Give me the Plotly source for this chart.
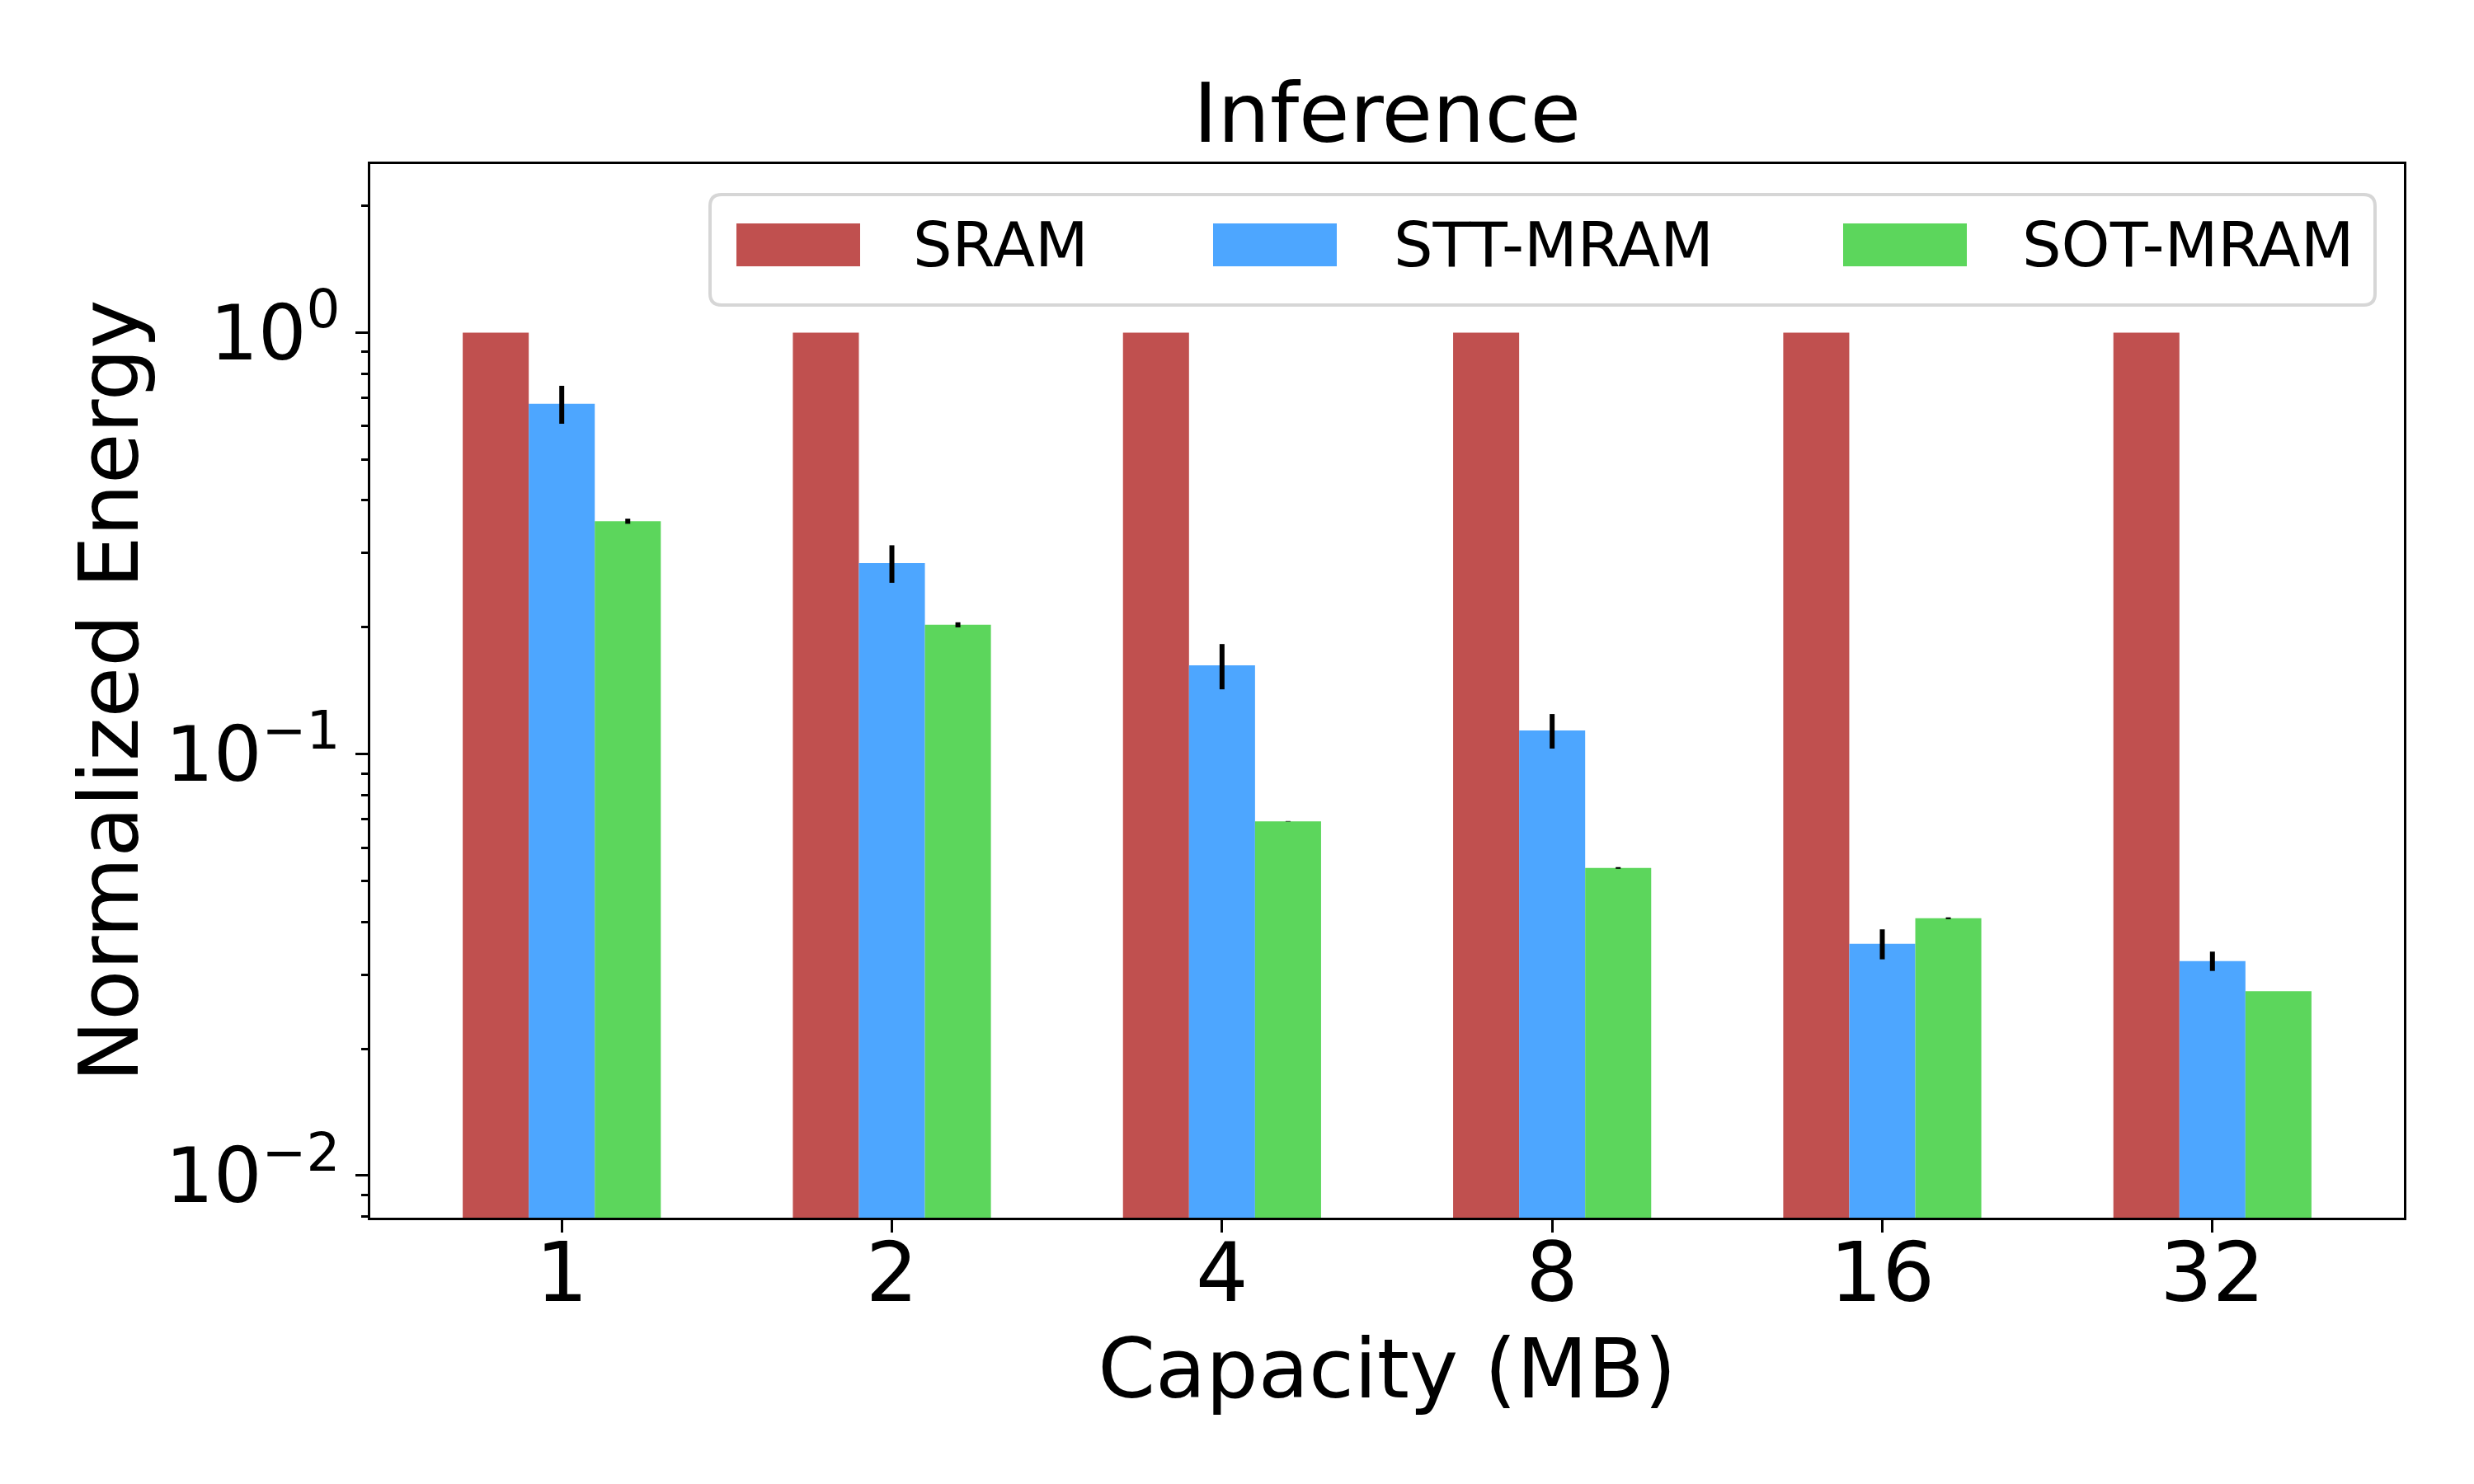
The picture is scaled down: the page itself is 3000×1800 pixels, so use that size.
import plotly.graph_objects as go

# ---------------- data ----------------
capacities = ["1", "2", "4", "8", "16", "32"]
series_names = ["SRAM", "STT-MRAM", "SOT-MRAM"]
series_colors = ["#C0504F", "#4DA6FF", "#5CD65C"]

sram = [1.0, 1.0, 1.0, 1.0, 1.0, 1.0]
stt = [0.678, 0.284, 0.1625, 0.1138, 0.0355, 0.0323]
stt_err = [0.070, 0.029, 0.020, 0.0107, 0.0029, 0.0017]
sot = [0.357, 0.2027, 0.0693, 0.0537, 0.0408, 0.0274]
sot_err = [0.005, 0.0028, 0.0001, 0.00025, 0.0002, 0.0]

y_tickvals = [0.01, 0.1, 1.0]
y_ticktext = ["10<sup>\u22122</sup>", "10<sup>\u22121</sup>", "10<sup>0</sup>"]

values = [sram, stt, sot]
errors = [None, stt_err, sot_err]

# ---------------- figure ----------------
W, H = 3000, 1800
L, R, T, B = 441, 93, 191, 331
FONT = "DejaVu Sans"

fig = go.Figure()
for name, col, vals, err in zip(series_names, series_colors, values, errors):
    kw = {}
    if err is not None:
        kw["error_y"] = dict(type="data", array=err, visible=True,
                             thickness=6, width=0, color="black")
    fig.add_trace(go.Bar(x=capacities, y=vals, name=name,
                         marker=dict(color=col, line=dict(width=0)),
                         showlegend=False, **kw))

fig.update_layout(
    width=W, height=H,
    margin=dict(l=L, r=R, t=T, b=B, pad=0),
    paper_bgcolor="white", plot_bgcolor="white",
    barmode="group", bargap=0.4, bargroupgap=0,
    font=dict(family=FONT, color="black"),
    title=dict(text="Inference", x=(L + (W - L - R) / 2) / W, xanchor="center",
               xref="container", y=1 - 129 / H, yanchor="middle", yref="container",
               font=dict(size=100, family=FONT, color="black")),
)

fig.update_xaxes(
    type="category", range=[-0.58, 5.58],
    showline=True, linecolor="black", linewidth=3.3, mirror=True,
    ticks="outside", ticklen=15, tickwidth=3.3, tickcolor="black",
    ticklabelstandoff=-37,
    tickfont=dict(size=100, family=FONT, color="black"),
    showgrid=False, zeroline=False,
    title=dict(text="Capacity (MB)", font=dict(size=100, family=FONT, color="black"),
               standoff=6),
)

fig.update_yaxes(
    type="log", range=[-2.0998, 0.4],
    showline=True, linecolor="black", linewidth=3.3, mirror=True,
    tickmode="array", tickvals=y_tickvals, ticktext=y_ticktext,
    ticks="outside", ticklen=15, tickwidth=3.3, tickcolor="black",
    tickfont=dict(size=92, family=FONT, color="black"),
    minor=dict(ticks="outside", ticklen=8, tickwidth=2.5, tickcolor="black",
               dtick="D1", showgrid=False),
    showgrid=False, zeroline=False,
    title=dict(text="Normalized Energy", font=dict(size=100, family=FONT, color="black"),
               standoff=0),
)

# ---------------- custom legend (matplotlib-like) ----------------
pw, ph = W - L - R, H - T - B

def px_x(x):
    return (x - L) / pw

def px_y(y):
    return (H - B - y) / ph

# frame with rounded corners
x0, x1, y0, y1 = 853, 2872, 228, 362
rad = 14
rx, ry = rad / pw, rad / ph
X0, X1, Y0, Y1 = px_x(x0), px_x(x1), px_y(y1), px_y(y0)
path = (f"M{X0+rx},{Y1} L{X1-rx},{Y1} Q{X1},{Y1} {X1},{Y1-ry} "
        f"L{X1},{Y0+ry} Q{X1},{Y0} {X1-rx},{Y0} "
        f"L{X0+rx},{Y0} Q{X0},{Y0} {X0},{Y0+ry} "
        f"L{X0},{Y1-ry} Q{X0},{Y1} {X0+rx},{Y1} Z")
fig.add_shape(type="path", path=path, xref="paper", yref="paper",
              line=dict(color="#d6d6d6", width=4), fillcolor="rgba(255,255,255,0.8)",
              layer="above")

patch_left = [885, 1463, 2227]
text_left = [1097, 1680, 2442]
for name, col, pl, tl in zip(series_names, series_colors, patch_left, text_left):
    fig.add_shape(type="rect", xref="paper", yref="paper",
                  x0=px_x(pl), x1=px_x(pl + 150), y0=px_y(315), y1=px_y(263),
                  fillcolor=col, line=dict(width=0), layer="above")
    fig.add_annotation(text=name, xref="paper", yref="paper",
                       x=px_x(tl), y=px_y(289), xanchor="left", yanchor="middle",
                       showarrow=False, font=dict(size=75, family=FONT, color="black"))

fig.write_html("out.html")
